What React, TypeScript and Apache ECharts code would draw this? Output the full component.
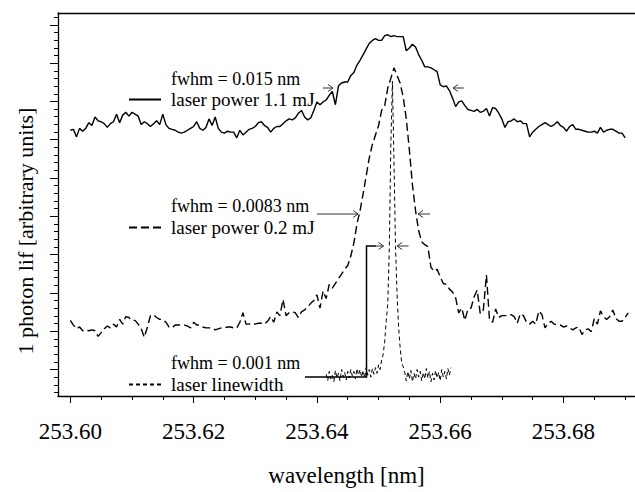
import React, { useEffect, useRef } from "react";
import * as echarts from "echarts";

// ---------- axes ----------
const X_MIN = 253.598;
const X_MAX = 253.6916;
const X_MAJOR_TICKS = [253.6, 253.62, 253.64, 253.66, 253.68];
const X_MINOR_TICKS = [
  253.605, 253.61, 253.615, 253.625, 253.63, 253.635, 253.645, 253.65,
  253.655, 253.665, 253.67, 253.675, 253.685, 253.69,
];
const Y_MIN = 0;
const Y_MAX = 405; // arbitrary units
const Y_MAJOR_FIRST = 28;
const Y_MINOR_STEP = 8.1;

// ---------- data (arbitrary units), regular wavelength sampling ----------
const SOLID_START = 253.6;
const SOLID_STEP = 0.0005;
const solidValues = [
  281, 282, 274, 283, 280, 283, 289, 286, 295, 291,
  290, 288, 284, 288, 290, 298, 289, 297, 300, 296,
  300, 298, 296, 287, 290, 288, 285, 288, 291, 287,
  298, 287, 283, 282, 281, 279, 278, 279, 281, 283,
  285, 290, 283, 281, 284, 293, 286, 295, 283, 279,
  278, 280, 279, 279, 273, 281, 276, 279, 282, 283,
  285, 289, 290, 286, 284, 279, 283, 285, 285, 288,
  291, 293, 292, 294, 299, 302, 295, 292, 294, 302,
  311, 308, 311, 313, 318, 322, 308, 328, 331, 332,
  332, 339, 342, 350, 355, 361, 367, 373, 376, 378,
  376, 376, 381, 382, 380, 381, 380, 380, 380, 365,
  368, 372, 369, 361, 355, 348, 348, 347, 345, 343,
  329, 327, 328, 323, 315, 306, 311, 312, 307, 303,
  302, 301, 303, 300, 301, 304, 296, 305, 304, 299,
  293, 284, 290, 291, 293, 290, 291, 288, 288, 274,
  279, 282, 285, 287, 289, 287, 285, 287, 290, 286,
  284, 280, 285, 287, 282, 282, 281, 280, 279, 279,
  280, 278, 284, 279, 281, 282, 282, 280, 278, 278,
  273,
];

const DASHED_START = 253.6;
const DASHED_STEP = 0.0005;
const dashedValues = [
  80, 75, 71, 73, 69, 70, 69, 70, 69, 63,
  67, 71, 74, 72, 76, 73, 81, 76, 84, 83,
  80, 80, 76, 71, 62, 73, 85, 86, 83, 81,
  81, 78, 73, 72, 75, 75, 75, 75, 74, 72,
  78, 75, 75, 73, 72, 72, 72, 70, 71, 72,
  72, 73, 73, 72, 72, 78, 88, 76, 76, 77,
  76, 77, 77, 76, 79, 84, 78, 89, 85, 102,
  85, 88, 89, 88, 83, 89, 91, 94, 98, 101,
  107, 93, 111, 103, 118, 114, 119, 124, 129, 134,
  138, 148, 162, 182, 196, 214, 233, 252, 266, 276,
  286, 302, 307, 326, 336, 347, 339, 331, 316, 293,
  260, 223, 196, 175, 163, 160, 158, 136, 132, 134,
  126, 119, 118, 113, 110, 104, 88, 93, 80, 92,
  93, 105, 112, 87, 91, 128, 80, 78, 92, 83,
  85, 85, 85, 86, 84, 77, 87, 85, 78, 76,
  79, 76, 90, 86, 72, 77, 79, 76, 75, 75,
  73, 74, 72, 70, 72, 73, 65, 70, 71, 68,
  82, 76, 90, 84, 81, 84, 91, 82, 79, 79,
  83, 88,
];

const DOTTED_START = 253.6415;
const DOTTED_STEP = 0.00025;
const dottedValues = [
  23, 16, 26, 18, 22, 15, 27, 19, 24, 16,
  28, 20, 25, 17, 26, 19, 28, 21, 26, 18,
  29, 22, 28, 20, 27, 19, 30, 22, 28, 20,
  29, 23, 30, 24, 33, 28, 38, 44, 58, 80,
  98, 158, 268, 333, 248, 158, 108, 73, 51, 35,
  31, 25, 16, 26, 18, 27, 15, 24, 18, 28,
  20, 26, 16, 25, 18, 29, 19, 26, 15, 24,
  17, 27, 19, 25, 16, 28, 20, 26, 18, 29,
  22, 30,
];

const SERIES_NAMES = ["laser power 1.1 mJ", "laser power 0.2 mJ", "laser linewidth"];
const FWHM_LABELS = ["fwhm = 0.015 nm", "fwhm = 0.0083 nm", "fwhm = 0.001 nm"];
const X_TITLE = "wavelength [nm]";
const Y_TITLE = "1 photon lif [arbitrary units]";

const FONT = "Liberation Serif";

function toPairs(start: number, step: number, values: number[]) {
  return values.map((v, i) => [Math.round((start + i * step) * 1e6) / 1e6, v]);
}

function arrow(xFrom: number, xTo: number, y: number, color: string, w: number) {
  const dir = xTo > xFrom ? 1 : -1;
  const hl = 5;
  const hw = 3.5;
  return [
    {
      type: "line",
      shape: { x1: xFrom, y1: y, x2: xTo, y2: y },
      style: { stroke: color, lineWidth: w },
      silent: true,
    },
    {
      type: "polyline",
      shape: {
        points: [
          [xTo - dir * hl, y - hw],
          [xTo, y],
          [xTo - dir * hl, y + hw],
        ],
      },
      style: { stroke: color, lineWidth: w, fill: null },
      silent: true,
    },
  ];
}

export default function App() {
  const ref = useRef<HTMLDivElement>(null);

  useEffect(() => {
    document.body.style.margin = "0";
    if (!ref.current) return;
    const chart = echarts.init(ref.current, null, { renderer: "svg" });

    const yMajor: number[] = [];
    const yMinor: number[] = [];
    for (let k = -3; ; k++) {
      const v = Math.round((Y_MAJOR_FIRST + k * Y_MINOR_STEP) * 100) / 100;
      if (v > Y_MAX) break;
      if (v < Y_MIN) continue;
      if (((k % 5) + 5) % 5 === 0) yMajor.push(v);
      else yMinor.push(v);
    }

    const axisColor = "#000";
    const arrowColor = "#333";

    const legendTops = [90, 218, 375];
    const fwhmY = [79, 206, 363];

    const option: any = {
      animation: false,
      backgroundColor: "#fff",
      grid: { left: 58, right: 0, top: 13, bottom: 74, containLabel: false },
      xAxis: [
        {
          type: "value",
          min: X_MIN,
          max: X_MAX,
          position: "bottom",
          name: X_TITLE,
          nameLocation: "middle",
          nameGap: 68,
          nameTextStyle: { fontFamily: FONT, fontSize: 23, color: "#000" },
          axisLine: { show: true, lineStyle: { color: axisColor, width: 1.3 } },
          axisTick: {
            show: true,
            inside: false,
            length: 7,
            customValues: X_MAJOR_TICKS,
            lineStyle: { color: axisColor, width: 1 },
          },
          axisLabel: {
            show: true,
            customValues: X_MAJOR_TICKS,
            formatter: (v: number) => v.toFixed(2),
            fontFamily: FONT,
            fontSize: 23,
            color: "#000",
            margin: 24,
          },
          splitLine: { show: false },
        },
        {
          type: "value",
          min: X_MIN,
          max: X_MAX,
          position: "bottom",
          axisLine: { show: false },
          axisTick: {
            show: true,
            inside: false,
            length: 4,
            customValues: X_MINOR_TICKS,
            lineStyle: { color: axisColor, width: 1 },
          },
          axisLabel: { show: false },
          splitLine: { show: false },
        },
        {
          type: "value",
          min: X_MIN,
          max: X_MAX,
          position: "top",
          axisLine: { show: true, lineStyle: { color: axisColor, width: 1.3 } },
          axisTick: { show: false },
          axisLabel: { show: false },
          splitLine: { show: false },
        },
      ],
      yAxis: [
        {
          type: "value",
          min: Y_MIN,
          max: Y_MAX,
          position: "left",
          axisLine: { show: true, lineStyle: { color: axisColor, width: 1.3 } },
          axisTick: {
            show: true,
            inside: false,
            length: 8,
            customValues: yMajor,
            lineStyle: { color: axisColor, width: 1 },
          },
          axisLabel: { show: false },
          splitLine: { show: false },
        },
        {
          type: "value",
          min: Y_MIN,
          max: Y_MAX,
          position: "left",
          axisLine: { show: false },
          axisTick: {
            show: true,
            inside: false,
            length: 4,
            customValues: yMinor,
            lineStyle: { color: axisColor, width: 1 },
          },
          axisLabel: { show: false },
          splitLine: { show: false },
        },
      ],
      legend: SERIES_NAMES.map((name, k) => ({
        data: [name],
        left: 128,
        top: legendTops[k],
        padding: 0,
        itemWidth: 32,
        itemHeight: 14,
        selectedMode: false,
        itemStyle: { opacity: 0 },
        textStyle: { fontFamily: FONT, fontSize: 19, color: "#000", padding: [0, 0, 0, 5] },
      })),
      series: [
        {
          name: SERIES_NAMES[0],
          type: "line",
          data: toPairs(SOLID_START, SOLID_STEP, solidValues),
          showSymbol: false,
          symbol: "none",
          lineStyle: { color: "#000", width: 1.4, type: "solid" },
          itemStyle: { color: "#000" },
          z: 3,
        },
        {
          name: SERIES_NAMES[1],
          type: "line",
          data: toPairs(DASHED_START, DASHED_STEP, dashedValues),
          showSymbol: false,
          symbol: "none",
          lineStyle: { color: "#000", width: 1.4, type: [8, 4] },
          itemStyle: { color: "#000" },
          z: 3,
        },
        {
          name: SERIES_NAMES[2],
          type: "line",
          data: toPairs(DOTTED_START, DOTTED_STEP, dottedValues),
          showSymbol: false,
          symbol: "none",
          lineStyle: { color: "#000", width: 1, type: [4, 3] },
          itemStyle: { color: "#000" },
          z: 3,
        },
      ],
      graphic: [
        {
          type: "text",
          x: 25,
          y: 231,
          rotation: Math.PI / 2,
          style: {
            text: Y_TITLE,
            fontSize: 22,
            fontFamily: FONT,
            fill: "#000",
            align: "center",
            verticalAlign: "middle",
          },
          silent: true,
        },
        ...FWHM_LABELS.map((t, k) => ({
          type: "text",
          x: 171,
          y: fwhmY[k],
          style: {
            text: t,
            fontSize: 18,
            fontFamily: FONT,
            fill: "#000",
            align: "left",
            verticalAlign: "middle",
          },
          silent: true,
        })),
        ...arrow(323, 333, 88, arrowColor, 1),
        ...arrow(464, 453, 88, arrowColor, 1),
        ...arrow(317, 358, 214, arrowColor, 1),
        ...arrow(430, 418, 214, arrowColor, 1),
        {
          type: "polyline",
          shape: {
            points: [
              [305, 377],
              [366.5, 377],
              [366.5, 246],
              [376, 246],
            ],
          },
          style: { stroke: "#000", lineWidth: 1.5, fill: null },
          silent: true,
        },
        ...arrow(375, 383.5, 246, arrowColor, 1),
        ...arrow(408.5, 397, 246, arrowColor, 1),
      ],
    };

    chart.setOption(option);
    return () => chart.dispose();
  }, []);

  return <div ref={ref} style={{ width: 635, height: 492 }} />;
}
